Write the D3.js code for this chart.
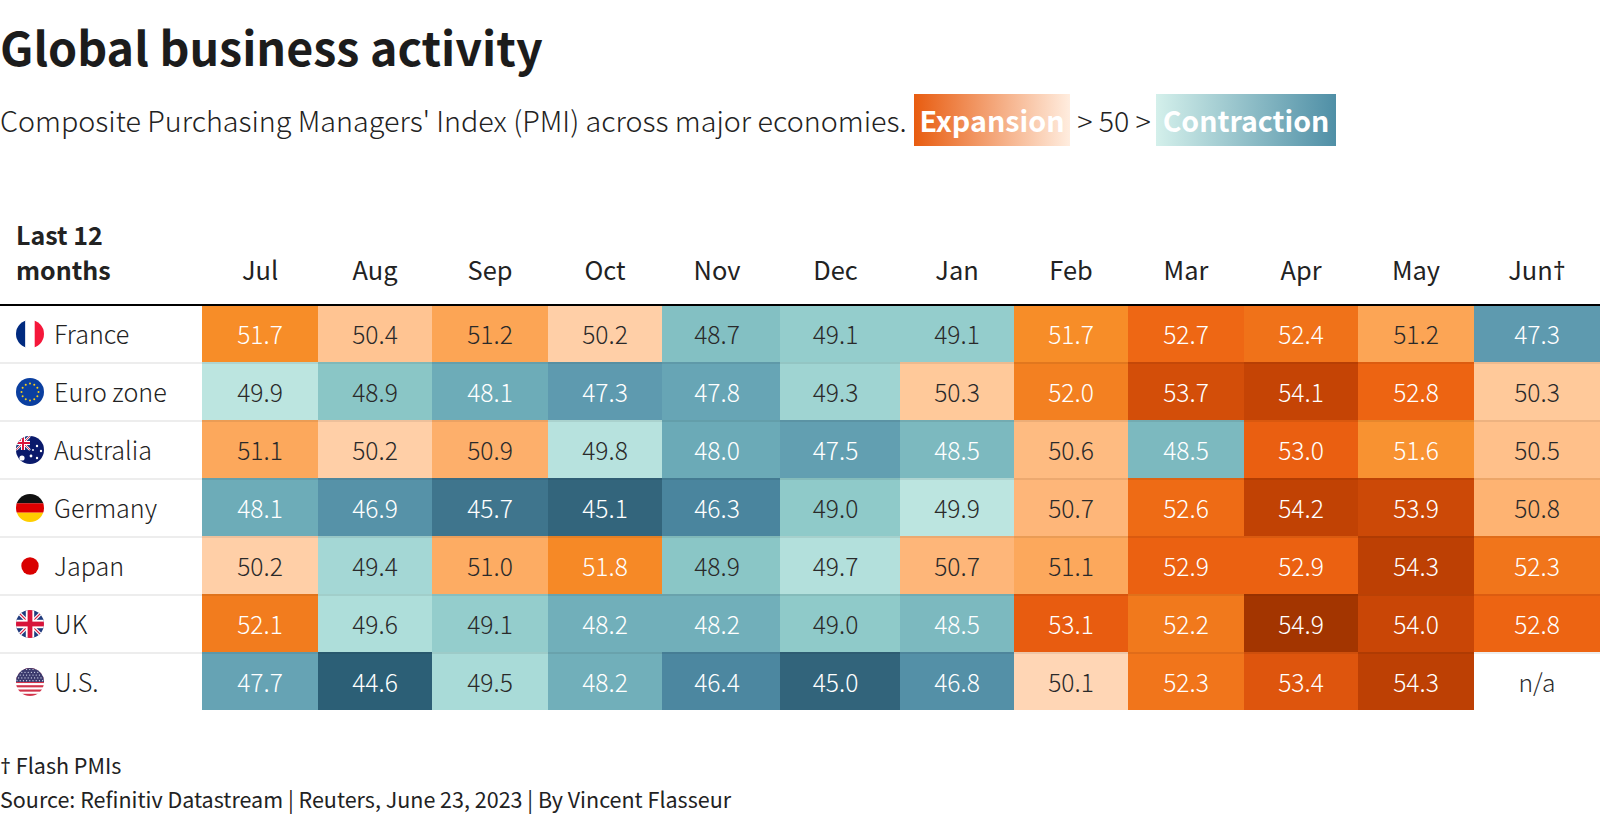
<!DOCTYPE html>
<html><head><meta charset="utf-8">
<script src="https://cdn.jsdelivr.net/npm/d3@7/dist/d3.min.js"></script>
<style>
html,body{margin:0;padding:0;background:#fff;overflow:hidden}
svg{display:block}
text{font-family:"Noto Sans CJK JP","Source Sans Pro","Noto Sans",sans-serif;fill:#222}
tspan.dg{font-family:"Noto Sans",sans-serif;font-weight:400;fill:#222}
</style></head><body>
<svg id="c" width="1600" height="818"></svg>
<script>
const months=["Jul","Aug","Sep","Oct","Nov","Dec","Jan","Feb","Mar","Apr","May","Jun"];
const lastMonthMark="†";
const countries=["France","Euro zone","Australia","Germany","Japan","UK","U.S."];
const france=[51.7,50.4,51.2,50.2,48.7,49.1,49.1,51.7,52.7,52.4,51.2,47.3];
const euroZone=[49.9,48.9,48.1,47.3,47.8,49.3,50.3,52.0,53.7,54.1,52.8,50.3];
const australia=[51.1,50.2,50.9,49.8,48.0,47.5,48.5,50.6,48.5,53.0,51.6,50.5];
const germany=[48.1,46.9,45.7,45.1,46.3,49.0,49.9,50.7,52.6,54.2,53.9,50.8];
const japan=[50.2,49.4,51.0,51.8,48.9,49.7,50.7,51.1,52.9,52.9,54.3,52.3];
const uk=[52.1,49.6,49.1,48.2,48.2,49.0,48.5,53.1,52.2,54.9,54.0,52.8];
const us=[47.7,44.6,49.5,48.2,46.4,45.0,46.8,50.1,52.3,53.4,54.3,null];
const rows=[france,euroZone,australia,germany,japan,uk,us];
const anchorValues=[44.6,45.1,46.3,47.3,48.1,48.9,49.5,49.9,50.1,50.3,50.7,51.2,51.7,52.1,52.8,53.1,54.1,54.9];
const anchorColors=["#2c5f76","#33657c","#4a859e","#5e9aaf","#6dacb8","#8ac6c6","#a9dbd8","#bce5e0","#ffd6b5","#ffc99a","#feb679","#fca555","#f78d28","#f27c1e","#ed6412","#e85c10","#c54405","#a33500"];

const svg=d3.select("#c");
// the table's columns are not of equal width
const colLeft=d3.scaleOrdinal().domain(months).range([202,318,432,548,662,780,900,1014,1128,1244,1358,1474]);
const colRight=d3.scaleOrdinal().domain(months).range([318,432,548,662,780,900,1014,1128,1244,1358,1474,1600]);
const colText=d3.scaleOrdinal().domain(months).range([260,375,490,605,717,835.5,957,1071,1186,1301,1416,1537]);
const y=d3.scaleBand().domain(countries).range([304,710]);
const color=d3.scaleLinear().domain(anchorValues).range(anchorColors).interpolate(d3.interpolateRgb);

// gradients
const defs=svg.append("defs");
function grad(id,a,b){const g=defs.append("linearGradient").attr("id",id);
 g.append("stop").attr("offset",0).attr("stop-color",a);g.append("stop").attr("offset",1).attr("stop-color",b);}
grad("gExp","#e85c10","#ffeddf");grad("gCon","#d4f0eb","#4f8fa6");

// title
svg.append("text").attr("x",0).attr("y",66).attr("font-size",46.6).attr("font-weight",700).style("fill","#1c1c1c").text("Global business activity");
svg.append("text").attr("x",0).attr("y",132).attr("font-size",28.7).attr("font-weight",300).text("Composite Purchasing Managers' Index (PMI) across major economies.");
svg.append("rect").attr("x",914).attr("y",94).attr("width",156).attr("height",52).attr("fill","url(#gExp)");
svg.append("rect").attr("x",1156).attr("y",94).attr("width",180).attr("height",52).attr("fill","url(#gCon)");
svg.append("text").attr("x",992).attr("y",132).attr("text-anchor","middle").attr("font-size",28.7).attr("font-weight",700).style("fill","#fff").text("Expansion");
svg.append("text").attr("x",1246).attr("y",132).attr("text-anchor","middle").attr("font-size",28.5).attr("font-weight",700).style("fill","#fff").text("Contraction");
svg.append("text").attr("x",1114).attr("y",132).attr("text-anchor","middle").attr("font-size",28.5).attr("font-weight",300).text("> 50 >");

// header
svg.append("text").attr("x",16).attr("y",245).attr("font-size",25).attr("font-weight",700).text("Last 12");
svg.append("text").attr("x",16).attr("y",280).attr("font-size",25).attr("font-weight",700).text("months");
const heads=svg.selectAll(".m").data(months).join("text").attr("class","m")
 .attr("x",d=>colText(d)).attr("y",280).attr("text-anchor","middle").attr("font-size",25.4).attr("font-weight",400);
heads.append("tspan").text(d=>d);
heads.filter((d,i)=>i===months.length-1).append("tspan").attr("class","dg").text(lastMonthMark);

// cells
const g=svg.append("g");
rows.forEach((vals,r)=>{
 const name=countries[r];
 const data=vals.map((v,i)=>({v,m:months[i]}));
 const cells=g.append("g").selectAll("g").data(data).join("g");
 cells.append("rect").attr("x",d=>colLeft(d.m)).attr("y",y(name)).attr("width",d=>colRight(d.m)-colLeft(d.m)).attr("height",y.bandwidth())
  .attr("fill",d=>d.v==null?"#fff":color(d.v));
 cells.append("text").attr("x",d=>colText(d.m)).attr("y",y(name)+y.bandwidth()/2+11)
  .attr("text-anchor","middle").attr("font-size",24.6).attr("font-weight",300)
  .style("fill",d=>d.v!=null&&(d.v>=51.5||d.v<=48.5)?"#fff":"#2a2a2a").text(d=>d.v==null?"n/a":d.v.toFixed(1));
 svg.append("text").attr("x",54).attr("y",y(name)+y.bandwidth()/2+11).attr("font-size",25.1).attr("font-weight",300).text(name);
});
// row rules
svg.selectAll(".rl").data(countries.slice(1)).join("rect").attr("class","rl")
 .attr("x",0).attr("width",1600).attr("y",d=>y(d)).attr("height",2).attr("fill","#000").attr("opacity",.07);
svg.append("rect").attr("x",0).attr("y",304).attr("width",1600).attr("height",2).attr("fill","#000");

// flags
const R=14;
countries.forEach((name,r)=>{
 const id="f"+r;
 defs.append("clipPath").attr("id",id).append("circle").attr("r",R);
 const f=svg.append("g").attr("transform",`translate(30,${y(name)+y.bandwidth()/2+1})`).attr("clip-path",`url(#${id})`);
 const rc=(a,b,w,h,c)=>f.append("rect").attr("x",a).attr("y",b).attr("width",w).attr("height",h).attr("fill",c);
 const ln=(a,b,c,d,w,col)=>f.append("line").attr("x1",a).attr("y1",b).attr("x2",c).attr("y2",d).attr("stroke",col).attr("stroke-width",w);
 const jack=(w,h)=>{
  rc(-w,-h,2*w,2*h,"#1f3a7d");
  ln(-w,-h,w,h,3.5,"#fff");ln(-w,h,w,-h,3.5,"#fff");
  ln(-w,-h,w,h,1.2,"#d8143a");ln(-w,h,w,-h,1.2,"#d8143a");
  rc(-w,-h*.3,2*w,h*.6,"#fff");rc(-w*.3,-h,w*.6,2*h,"#fff");
  rc(-w,-h*.17,2*w,h*.34,"#d8143a");rc(-w*.17,-h,w*.34,2*h,"#d8143a");
 };
 if(name==="France"){rc(-14,-14,9.5,28,"#002a7f");rc(-4.7,-14,9.4,28,"#fff");rc(4.7,-14,9.5,28,"#f5173a");}
 if(name==="Euro zone"){rc(-14,-14,28,28,"#0b3fa0");
  d3.range(12).forEach(k=>{const a=k*Math.PI/6;f.append("circle").attr("cx",8.5*Math.cos(a)).attr("cy",8.5*Math.sin(a)).attr("r",1).attr("fill","#f6cd1c");});}
 if(name==="Australia"){rc(-14,-14,28,28,"#0a1a6b");
  rc(-14,-14,14,14,"#1f3a7d");
  ln(-14,-14,0,0,2.2,"#fff");ln(-14,0,0,-14,2.2,"#fff");ln(-14,-14,0,0,.8,"#d8143a");ln(-14,0,0,-14,.8,"#d8143a");
  rc(-14,-9,14,4,"#fff");rc(-9,-14,4,14,"#fff");rc(-14,-8,14,2,"#d8143a");rc(-8,-14,2,14,"#d8143a");
  [[-8,8,2.6],[1,6,1.4],[7,-4,1.2],[11,1,1.2],[7,8,1.2],[3,0,.9]].forEach(s=>f.append("circle").attr("cx",s[0]).attr("cy",s[1]).attr("r",s[2]).attr("fill","#fff"));}
 if(name==="Germany"){rc(-14,-14,28,9.4,"#111");rc(-14,-4.7,28,9.4,"#dd0000");rc(-14,4.7,28,9.4,"#ffce00");}
 if(name==="Japan"){f.append("circle").attr("r",8.7).attr("fill","#d90000");}
 if(name==="UK"){rc(-14,-14,28,28,"#fff");jack(14,14);}
 if(name==="U.S."){rc(-14,-14,28,28,"#fff");
  d3.range(7).forEach(k=>rc(-14,-14+k*4.3,28,2.15,"#d2334a"));
  rc(-14,-14,28,14,"#3c3b6e");
  d3.range(5).forEach(a=>d3.range(9).forEach(b=>f.append("circle").attr("cx",-13+b*3.2+(a%2)*1.6).attr("cy",-12.5+a*2.8).attr("r",.6).attr("fill","#dfe3f2")));}
});

// footer
const fn=svg.append("text").attr("x",0).attr("y",774).attr("font-size",21.5).attr("font-weight",400);
fn.append("tspan").attr("class","dg").text("†");fn.append("tspan").text(" Flash PMIs");
svg.append("text").attr("x",0).attr("y",808).attr("font-size",21.5).attr("font-weight",400).text("Source: Refinitiv Datastream | Reuters, June 23, 2023 | By Vincent Flasseur");
</script></body></html>
